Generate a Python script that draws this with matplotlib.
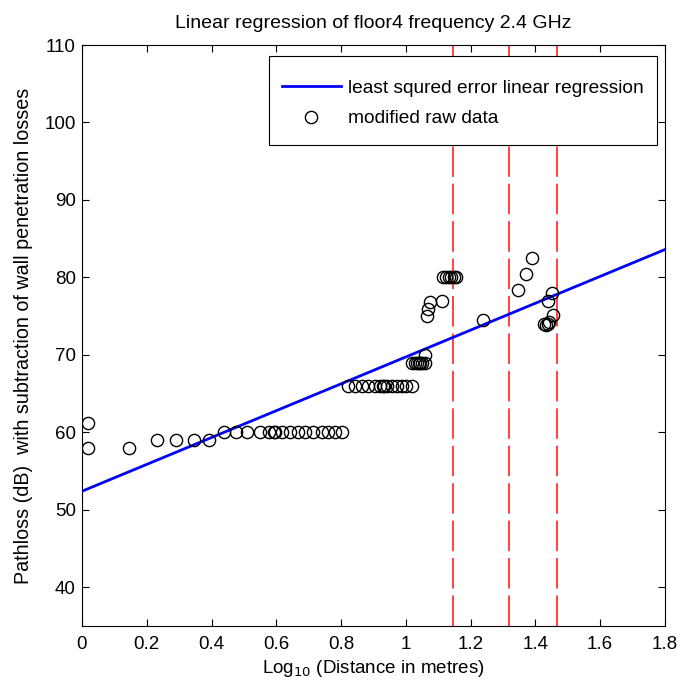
import matplotlib
matplotlib.use("Agg")
import matplotlib.pyplot as plt
from matplotlib.patches import Rectangle
from matplotlib.ticker import FormatStrFormatter

plt.rcParams["font.family"] = ["Liberation Sans", "DejaVu Sans"]

# regression line (end points)
line_x = [0.0, 1.8]
line_y = [52.4, 83.6]

# wall positions (log10 distance)
walls = [1.146, 1.318, 1.467]

# modified raw data
raw_x = [0.018, 0.018, 0.146, 0.231, 0.290, 0.346, 0.392,
         0.438, 0.475, 0.511, 0.549, 0.578, 0.594, 0.597, 0.617, 0.642,
         0.666, 0.688, 0.714, 0.740, 0.760, 0.781, 0.802,
         0.822, 0.843, 0.864, 0.884, 0.905, 0.920, 0.930, 0.933, 0.941,
         0.956, 0.972, 0.987, 1.002, 1.018,
         1.020, 1.028, 1.035, 1.040, 1.045, 1.050, 1.058, 1.060,
         1.064, 1.069, 1.074, 1.112,
         1.115, 1.125, 1.132, 1.140, 1.148, 1.155,
         1.239, 1.347, 1.370, 1.388,
         1.428, 1.434, 1.440, 1.442, 1.453, 1.440, 1.450]
raw_y = [61.2, 58.0, 58.0, 59.0, 59.0, 59.0, 59.0,
         60.0, 60.0, 60.0, 60.0, 60.0, 60.0, 60.0, 60.0, 60.0,
         60.0, 60.0, 60.0, 60.0, 60.0, 60.0, 60.0,
         66.0, 66.0, 66.0, 66.0, 66.0, 66.0, 66.0, 66.0, 66.0,
         66.0, 66.0, 66.0, 66.0, 66.0,
         69.0, 69.0, 69.0, 69.0, 69.0, 69.0, 69.0, 70.0,
         75.0, 75.9, 76.8, 76.9,
         80.0, 80.0, 80.0, 80.0, 80.0, 80.0,
         74.5, 78.4, 80.4, 82.5,
         74.0, 73.9, 74.0, 74.3, 75.1, 76.9, 78.0]

fig = plt.figure(figsize=(6.81, 6.85), dpi=100)
ax = fig.add_axes([0.1204, 0.0861, 0.856, 0.8482])

ax.plot(line_x, line_y, color="#0000ff", lw=2.0,
        label="least squred error linear regression", zorder=3)
ax.plot(raw_x, raw_y, linestyle="none", marker="o", ms=8.8, mfc="none",
        mec="black", mew=1.0, label="modified raw data", zorder=4)
for w in walls:
    ax.axvline(w, color="#ff1010", lw=1.1, dashes=(20, 4.5), zorder=2)

ax.set_xlim(0, 1.8)
ax.set_ylim(35, 110)
ax.set_xticks([0, 0.2, 0.4, 0.6, 0.8, 1.0, 1.2, 1.4, 1.6, 1.8])
ax.set_yticks([40, 50, 60, 70, 80, 90, 100, 110])
ax.xaxis.set_major_formatter(FormatStrFormatter("%g"))
ax.tick_params(direction="in", top=True, right=True, labelsize=13.5,
               length=5, width=0.8)
ax.tick_params(axis="x", pad=7.5)
ax.tick_params(axis="y", pad=4.5)
for s in ax.spines.values():
    s.set_linewidth(0.8)

ax.set_title("Linear regression of floor4 frequency 2.4 GHz", fontsize=14, pad=12)
ax.set_xlabel("Log$_{10}$ (Distance in metres)", fontsize=13.5, labelpad=3)
ax.set_ylabel("Pathloss (dB)  with subtraction of wall penetration losses",
              fontsize=14.2, labelpad=8)

# legend box, MATLAB style
bx, by, bw, bh = 0.3202, 0.8279, 0.6655, 0.1532
ax.add_patch(Rectangle((bx, by), bw, bh, transform=ax.transAxes,
                       facecolor="white", edgecolor="black", lw=0.8, zorder=5))
leg = ax.legend(loc="center", bbox_to_anchor=(bx, by - 0.005, bw, bh),
                fontsize=13.8, frameon=False, handlelength=3.1,
                handletextpad=0.36, labelspacing=0.68, borderpad=0.0,
                borderaxespad=0.0)
leg.set_zorder(6)

fig.savefig("out.png", dpi=100)
